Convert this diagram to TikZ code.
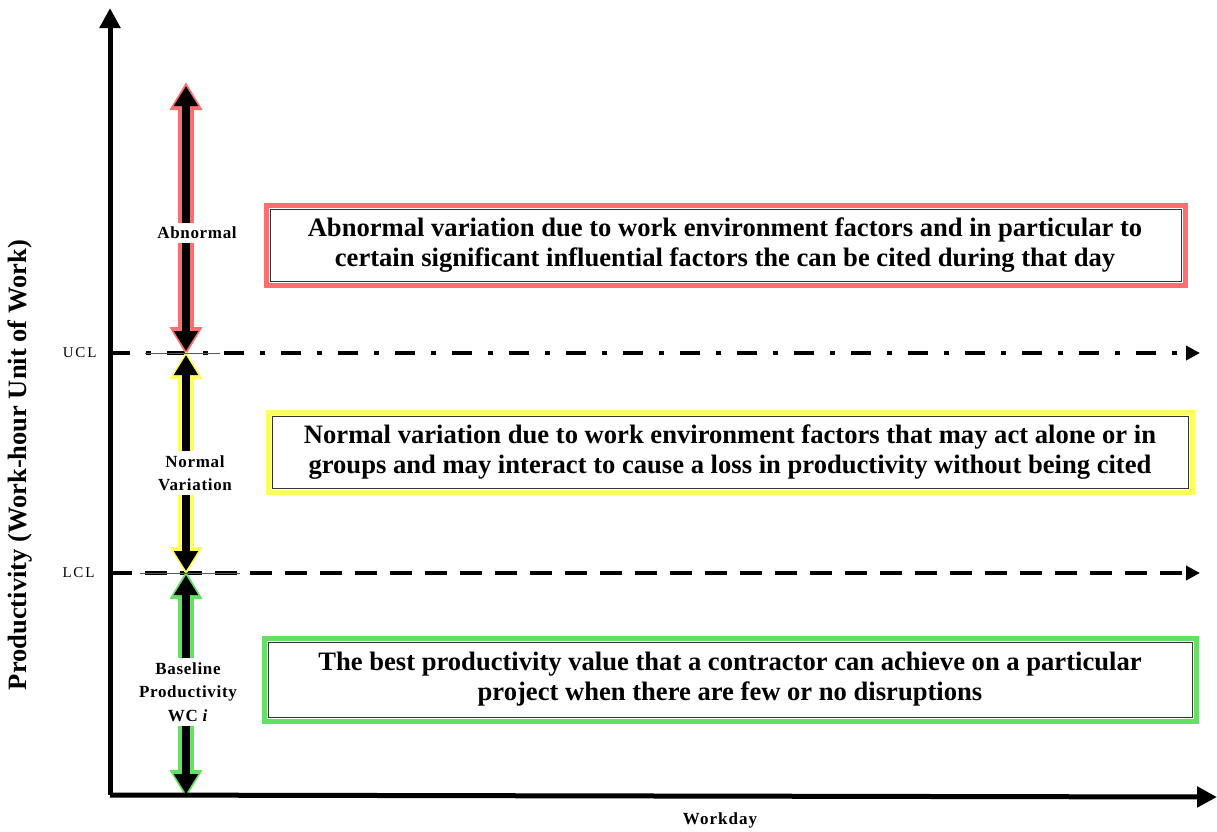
\documentclass[tikz,border=0pt]{standalone}
\usepackage{fontspec}
\setmainfont{Liberation Serif}
\usetikzlibrary{arrows.meta}
\definecolor{rglow}{RGB}{255,110,110}
\definecolor{yglow}{RGB}{255,255,90}
\definecolor{gglow}{RGB}{100,225,100}
\tikzset{
  axisline/.style={line width=5pt,-{Triangle[length=20pt,width=20pt]}},
  limline/.style={line width=4pt,-{Triangle[length=14pt,width=14pt]}},
  glowarr/.style={line width=16pt,#1,{Triangle[length=28pt,width=31pt]}-{Triangle[length=28pt,width=31pt]}},
  corearr/.style={line width=8pt,black,shorten <=4pt,shorten >=4pt,{Triangle[length=20pt,width=23pt]}-{Triangle[length=20pt,width=23pt]}},
  lbl/.style={fill=white,font=\bfseries\fontsize{17}{23.5}\selectfont\addfontfeature{LetterSpace=4},align=center,inner sep=4pt},
  boxtxt/.style={font=\bfseries\fontsize{26.6}{30}\selectfont,align=center},
  limtxt/.style={font=\fontsize{15}{16}\selectfont\addfontfeature{LetterSpace=12}},
}
\begin{document}
\begin{tikzpicture}[x=1pt,y=-1pt]
\useasboundingbox (0,0) rectangle (1217,831);
% coordinates
\coordinate (O) at (110,795);
\coordinate (Ytop) at (110,8);
\coordinate (Xend) at (1217,797);
\coordinate (U0) at (110,353);
\coordinate (U1) at (1200,353);
\coordinate (L0) at (110,573);
\coordinate (L1) at (1200,573);
\coordinate (At) at (186,82);
\coordinate (Am) at (186,355);
\coordinate (Am2) at (186,351);
\coordinate (Bm) at (186,575);
\coordinate (Bm2) at (186,571);
\coordinate (Bb) at (186,798);
% limit lines
\draw[limline,dash pattern=on 20pt off 16pt on 5pt off 16pt] (U0) -- (U1);
\draw[limline,dash pattern=on 22pt off 13pt] (L0) -- (L1);
% glowing arrows
\draw[glowarr=rglow] (At) -- (Am);
\draw[glowarr=yglow] (Am2) -- (Bm);
\draw[glowarr=gglow] (Bm2) -- (Bb);
\draw[corearr] (At) -- (Am);
\draw[corearr] (Am2) -- (Bm);
\draw[corearr] (Bm2) -- (Bb);
\draw[gray!70!black,line width=1pt] (145,353) -- (220,353);
\draw[gray!70!black,line width=1pt] (140,573) -- (240,573);
% axes
\draw[axisline] (O) -- (Ytop);
\draw[axisline] (110,795) -- (Xend);
% labels on arrows
\node[lbl] (ab) at (197,233) {Abnormal};
\node[lbl] (nv) at (195,473) {Normal\\Variation};
\node[lbl] (bp) at (188,692) {Baseline\\Productivity\\WC \textit{i}};
\node[limtxt,anchor=east] (ucl) at (100,353) {UCL};
\node[limtxt,anchor=east] (lcl) at (98,573) {LCL};
\node[font=\bfseries\fontsize{17}{18}\selectfont\addfontfeature{LetterSpace=6}] (wd) at (720,820) {Workday};
\node[font=\bfseries\fontsize{26.5}{27}\selectfont,rotate=90] (pr) at (20,465) {Productivity (Work-hour Unit of Work)};
% boxes
\draw[rglow,line width=5pt] (266,205) rectangle (1185,285);
\draw[black!80,line width=1pt] (270,209) rectangle (1181,281);
\node[boxtxt] (t1) at (725,245) {Abnormal variation due to work environment factors and in particular to\\certain significant influential factors the can be cited during that day};
\draw[yglow,line width=5pt] (268,412) rectangle (1192,492);
\draw[black!80,line width=1pt] (272,416) rectangle (1188,488);
\node[boxtxt] (t2) at (730,452) {Normal variation due to work environment factors that may act alone or in\\groups and may interact to cause a loss in productivity without being cited};
\draw[gglow,line width=5pt] (264,638) rectangle (1196,721);
\draw[black!80,line width=1pt] (268,642) rectangle (1192,717);
\node[boxtxt] (t3) at (730,679) {The best productivity value that a contractor can achieve on a particular\\project when there are few or no disruptions};
\end{tikzpicture}
\end{document}
